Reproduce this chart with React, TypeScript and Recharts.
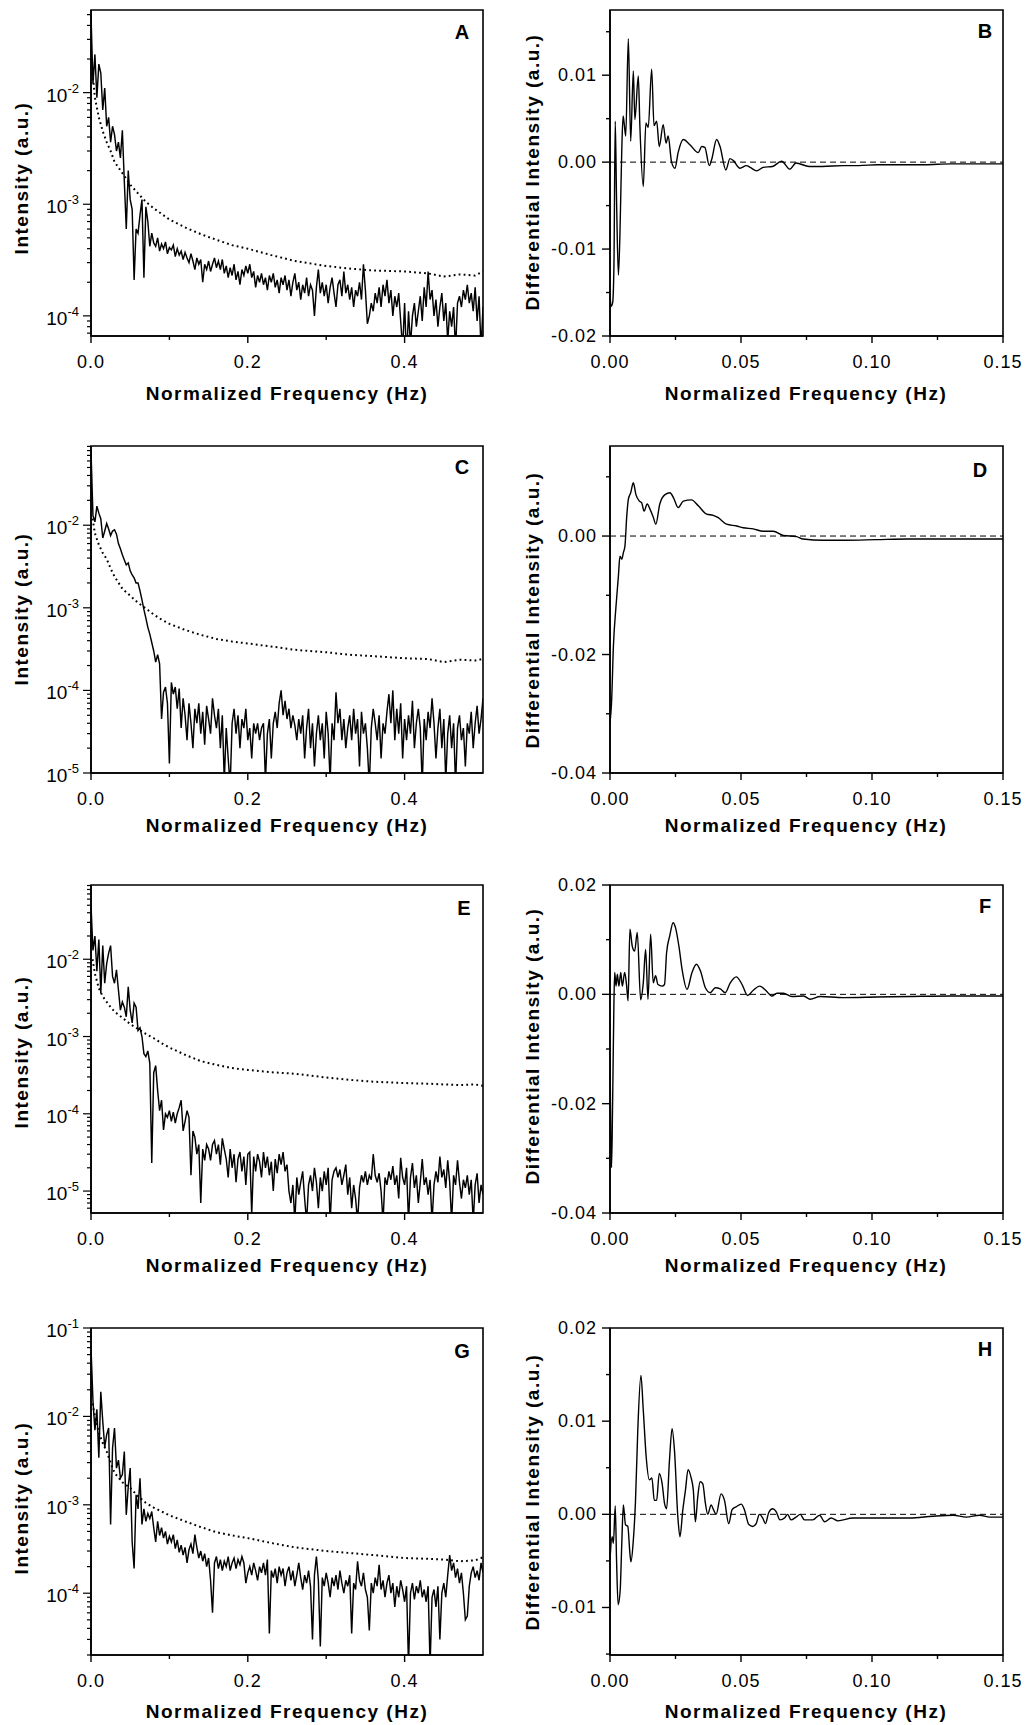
import React from 'react';
import { LineChart, Line, XAxis, YAxis, ReferenceArea, ReferenceLine } from 'recharts';

const FONT = "'Liberation Sans', Arial, Helvetica, sans-serif";

// spectra are sampled every 0.0025 Hz from 0 to 0.5
const SPEC_STEP = 0.0025;

const aIntensity = [
  5.0e-2, 1.2e-2, 2.2e-2, 9e-3, 1.8e-2, 1.5e-2, 7e-3, 1.1e-2, 5e-3, 6e-3,
  3.6e-3, 5e-3, 4.2e-3, 3e-3, 3.6e-3, 2.6e-3, 4.6e-3, 1.6e-3, 6e-4, 2e-3,
  1.1e-3, 9e-4, 2.1e-4, 6e-4, 5.5e-4, 8e-4, 1.1e-3, 2.2e-4, 9.5e-4, 7e-4,
  4.2e-4, 5.5e-4, 4.5e-4, 4.2e-4, 5.0e-4, 3.8e-4, 4.4e-4, 4.0e-4, 4.6e-4, 3.6e-4,
  4.1e-4, 3.9e-4, 4.3e-4, 3.4e-4, 4.0e-4, 3.5e-4, 3.8e-4, 3.2e-4, 3.7e-4, 3.3e-4,
  3.0e-4, 3.6e-4, 3.1e-4, 2.6e-4, 3.3e-4, 2.9e-4, 3.2e-4, 2.0e-4, 2.9e-4, 2.6e-4,
  3.1e-4, 2.5e-4, 2.9e-4, 3.3e-4, 2.7e-4, 3.1e-4, 2.6e-4, 3.2e-4, 2.4e-4, 2.8e-4,
  2.2e-4, 2.7e-4, 2.3e-4, 2.9e-4, 2.1e-4, 2.5e-4, 1.9e-4, 2.6e-4, 2.3e-4, 2.8e-4,
  2.4e-4, 2.9e-4, 2.2e-4, 2.5e-4, 1.8e-4, 2.3e-4, 2.0e-4, 2.4e-4, 1.9e-4, 2.2e-4,
  1.7e-4, 2.3e-4, 2.0e-4, 2.4e-4, 1.8e-4, 2.1e-4, 1.6e-4, 2.2e-4, 1.9e-4, 2.3e-4,
  1.7e-4, 2.1e-4, 1.5e-4, 2.0e-4, 2.4e-4, 1.7e-4, 2.0e-4, 1.4e-4, 1.9e-4, 1.6e-4,
  2.2e-4, 1.5e-4, 1.9e-4, 1.7e-4, 1.0e-4, 1.8e-4, 2.6e-4, 1.6e-4, 2.0e-4, 1.5e-4,
  1.9e-4, 1.3e-4, 1.8e-4, 2.2e-4, 1.6e-4, 1.2e-4, 1.9e-4, 2.1e-4, 1.5e-4, 2.5e-4,
  1.6e-4, 1.9e-4, 1.4e-4, 1.8e-4, 1.2e-4, 1.7e-4, 1.5e-4, 2.0e-4, 1.4e-4, 2.9e-4,
  1.7e-4, 8.5e-5, 1.0e-4, 1.3e-4, 1.1e-4, 1.6e-4, 1.3e-4, 1.8e-4, 1.2e-4, 1.9e-4,
  1.5e-4, 2.1e-4, 1.3e-4, 1.7e-4, 1.0e-4, 1.5e-4, 1.2e-4, 1.6e-4, 9e-5, 5e-5,
  1.3e-4, 4e-5, 1.1e-4, 5.5e-5, 1.0e-4, 1.3e-4, 8e-5, 1.1e-4, 1.5e-4, 9e-5,
  1.8e-4, 1.2e-4, 2.5e-4, 1.4e-4, 1.7e-4, 1.0e-4, 1.4e-4, 8e-5, 1.2e-4, 1.6e-4,
  9e-5, 1.3e-4, 6e-5, 1.1e-4, 8e-5, 1.2e-4, 5e-5, 1.3e-4, 1.5e-4, 1.2e-4,
  1.7e-4, 1.4e-4, 1.9e-4, 1.3e-4, 1.6e-4, 1.1e-4, 1.8e-4, 9e-5, 1.5e-4, 5e-5,
  1.2e-4,
];

const cIntensity = [
  8e-2, 1.3e-2, 1.1e-2, 1.7e-2, 1.4e-2, 1.2e-2, 7e-3, 8.5e-3, 1.05e-2, 9e-3,
  7.5e-3, 8.5e-3, 8.8e-3, 7.8e-3, 6e-3, 5.2e-3, 4.4e-3, 3.8e-3, 3.3e-3, 3.5e-3,
  2.8e-3, 2.5e-3, 2.3e-3, 2.0e-3, 2.0e-3, 1.6e-3, 1.25e-3, 9.5e-4, 7.5e-4, 5.8e-4,
  4.8e-4, 3.8e-4, 3.0e-4, 2.2e-4, 2.7e-4, 2.1e-4, 4.5e-5, 9.5e-5, 1.1e-4, 7e-5,
  1.3e-5, 1.25e-4, 9e-5, 1.1e-4, 6e-5, 1.05e-4, 3.5e-5, 8e-5, 5e-5, 2.5e-5,
  7e-5, 4e-5, 2e-5, 6e-5, 4e-5, 7e-5, 3e-5, 5.5e-5, 2.2e-5, 6.5e-5,
  4.5e-5, 3e-5, 8e-5, 5e-5, 3.5e-5, 6e-5, 2e-5, 5e-5, 8e-6, 3.5e-5,
  1.5e-5, 7e-6, 4e-5, 6e-5, 3e-5, 5e-5, 2e-5, 4.5e-5, 3.5e-5, 6e-5,
  2.5e-5, 3.5e-5, 1.5e-5, 4e-5, 3e-5, 4e-5, 2.5e-5, 3.5e-5, 4e-5, 8e-6,
  3e-5, 4.5e-5, 1.5e-5, 4e-5, 5.5e-5, 3.5e-5, 7e-5, 1e-4, 5e-5, 7.5e-5,
  4.5e-5, 6e-5, 3.5e-5, 5e-5, 3.8e-5, 2.5e-5, 4.5e-5, 3e-5, 5e-5, 1.5e-5,
  3.5e-5, 6e-5, 2e-5, 4e-5, 1.2e-5, 3e-5, 5e-5, 2.5e-5, 4e-5, 1.5e-5,
  5.5e-5, 3e-5, 8e-6, 4e-5, 2.5e-5, 9.5e-5, 4e-5, 6e-5, 2.5e-5, 4.5e-5,
  2e-5, 3.5e-5, 5e-5, 2.5e-5, 6e-5, 3e-5, 4.5e-5, 1.2e-5, 5.5e-5, 3e-5,
  4e-5, 2e-5, 7e-6, 3.5e-5, 6e-5, 4e-5, 2.5e-5, 5e-5, 1.5e-5, 4e-5,
  3e-5, 5.5e-5, 9e-5, 4e-5, 1e-4, 2.5e-5, 6e-5, 3e-5, 7e-5, 1.5e-5,
  4.5e-5, 2.5e-5, 5e-5, 3e-5, 7.5e-5, 2e-5, 4e-5, 6e-5, 3.5e-5, 7e-6,
  4.5e-5, 2.5e-5, 5.5e-5, 3.5e-5, 8e-5, 4e-5, 1.5e-5, 3.5e-5, 6e-5, 2e-5,
  4.5e-5, 8e-6, 3e-5, 5e-5, 2e-5, 4e-5, 7e-6, 3.5e-5, 5e-5, 2.5e-5,
  3.5e-5, 1.2e-5, 4e-5, 3e-5, 5.5e-5, 2e-5, 4e-5, 6.5e-5, 3e-5, 4.5e-5,
  8e-5,
];

const eIntensity = [
  5e-2, 1.3e-2, 2e-2, 7e-3, 1.8e-2, 3.6e-3, 1.5e-2, 4.9e-3, 8.8e-3, 1.2e-2,
  1.5e-2, 6e-3, 4.9e-3, 7.3e-3, 4e-3, 2.2e-3, 2.8e-3, 2.4e-3, 1.8e-3, 4.4e-3,
  2.2e-3, 1.5e-3, 2.7e-3, 2.4e-3, 1.2e-3, 1.3e-3, 1.0e-3, 6e-4, 5.5e-4, 6.5e-4,
  4.5e-4, 2.3e-5, 3.4e-4, 4.2e-4, 2e-4, 1.1e-4, 1.5e-4, 6.2e-5, 1e-4, 9e-5,
  1.1e-4, 8e-5, 1.05e-4, 7.6e-5, 1e-4, 1.2e-4, 1.5e-4, 6e-5, 8e-5, 1.1e-4,
  9e-5, 1.6e-5, 6e-5, 5e-5, 3e-5, 4e-5, 7e-6, 3.5e-5, 2.5e-5, 4e-5,
  3.5e-5, 2.5e-5, 4e-5, 4.5e-5, 3e-5, 4e-5, 2.2e-5, 4.8e-5, 3.5e-5, 2.6e-5,
  1.5e-5, 3.5e-5, 2e-5, 3e-5, 1.3e-5, 2.6e-5, 3.2e-5, 1.8e-5, 2.8e-5, 1.2e-5,
  3e-5, 3.2e-5, 5e-6, 2.8e-5, 1.8e-5, 3e-5, 2.4e-5, 1.5e-5, 3.2e-5, 2e-5,
  2.8e-5, 1.6e-5, 2.4e-5, 1e-5, 2.6e-5, 1.7e-5, 3e-5, 2.2e-5, 3.2e-5, 1.8e-5,
  2.2e-5, 1e-5, 7e-6, 1.2e-5, 4e-6, 1.5e-5, 9e-6, 1.3e-5, 1.8e-5, 8e-6,
  4e-6, 1.2e-5, 1.6e-5, 1e-5, 2e-5, 1.3e-5, 6e-6, 1.5e-5, 1e-5, 1.8e-5,
  1.2e-5, 2e-5, 4e-6, 1.4e-5, 1.8e-5, 2e-5, 1.5e-5, 1.9e-5, 1.2e-5, 1.6e-5,
  2.2e-5, 9e-6, 1.5e-5, 6e-6, 1.2e-5, 8e-6, 4e-6, 1.1e-5, 1.6e-5, 1.3e-5,
  1.8e-5, 1.2e-5, 1.6e-5, 1.4e-5, 3e-5, 1.6e-5, 1.3e-5, 1.7e-5, 1e-5, 4e-6,
  1.5e-5, 1.2e-5, 1.8e-5, 1.4e-5, 2.1e-5, 1.2e-5, 1.6e-5, 8e-6, 2.7e-5, 1.5e-5,
  1.2e-5, 2e-5, 4e-6, 1.5e-5, 2.3e-5, 1.1e-5, 1.6e-5, 7e-6, 1.3e-5, 2.6e-5,
  1.2e-5, 1.5e-5, 9e-6, 1.4e-5, 4e-6, 1.2e-5, 1.8e-5, 1.3e-5, 2.8e-5, 1.5e-5,
  1.9e-5, 1.1e-5, 2.5e-5, 1.3e-5, 4e-6, 1.6e-5, 1.2e-5, 2.5e-5, 1.3e-5, 8e-6,
  1.4e-5, 1.1e-5, 1.6e-5, 9e-6, 1.4e-5, 4e-6, 1.2e-5, 1.7e-5, 7e-6, 1.2e-5,
  9e-6,
];

const gIntensity = [
  6e-2, 1.5e-2, 7e-3, 1.2e-2, 3.4e-3, 1.9e-2, 8.8e-3, 4.5e-3, 6.2e-3, 7.4e-3,
  6e-4, 4.4e-3, 7.4e-3, 2.6e-3, 3.2e-3, 2.0e-3, 2.2e-3, 4e-3, 7.7e-4, 1.6e-3,
  2.6e-3, 3.8e-4, 1.9e-4, 1.3e-3, 9e-4, 2.0e-3, 6e-4, 9e-4, 6.5e-4, 8e-4,
  7e-4, 8.4e-4, 5.5e-4, 3.8e-4, 6.5e-4, 4.5e-4, 5.5e-4, 4.2e-4, 5e-4, 3.6e-4,
  4.4e-4, 3.8e-4, 4.6e-4, 3.2e-4, 4e-4, 2.9e-4, 3.5e-4, 2.7e-4, 3.3e-4, 2.2e-4,
  3.1e-4, 3.6e-4, 2.8e-4, 4.6e-4, 3.3e-4, 2.5e-4, 3e-4, 2.3e-4, 2.8e-4, 2.0e-4,
  2.5e-4, 1.4e-4, 6e-5, 2.2e-4, 2.6e-4, 1.9e-4, 2.4e-4, 1.8e-4, 2.3e-4, 2.0e-4,
  2.6e-4, 1.8e-4, 2.2e-4, 2.5e-4, 1.9e-4, 2.4e-4, 2.1e-4, 2.6e-4, 2.2e-4, 1.3e-4,
  1.7e-4, 2.0e-4, 1.6e-4, 2.2e-4, 1.8e-4, 1.4e-4, 2.0e-4, 1.7e-4, 2.2e-4, 1.6e-4,
  2.4e-4, 3.5e-5, 1.8e-4, 1.5e-4, 1.9e-4, 1.3e-4, 2.0e-4, 1.6e-4, 1.9e-4, 1.2e-4,
  1.7e-4, 2.0e-4, 1.4e-4, 1.8e-4, 1.2e-4, 1.6e-4, 2.2e-4, 1.5e-4, 1.1e-4, 1.6e-4,
  1.3e-4, 1.8e-4, 1.2e-4, 3e-5, 1.6e-4, 2.6e-4, 1.4e-4, 2.5e-5, 1.5e-4, 1.2e-4,
  1.7e-4, 1.3e-4, 9e-5, 1.5e-4, 1.2e-4, 1.6e-4, 1.1e-4, 1.8e-4, 1.3e-4, 1.0e-4,
  1.4e-4, 1.2e-4, 1.6e-4, 3.5e-5, 1.3e-4, 1.1e-4, 2.3e-4, 1.4e-4, 1.2e-4, 1.7e-4,
  1.1e-4, 9e-5, 3.8e-5, 1.3e-4, 1.0e-4, 1.5e-4, 1.2e-4, 2.1e-4, 1.1e-4, 1.4e-4,
  9e-5, 1.3e-4, 1.6e-4, 1.0e-4, 1.3e-4, 7e-5, 1.2e-4, 9e-5, 1.4e-4, 1.1e-4,
  8e-5, 1.2e-4, 1.5e-5, 1.0e-4, 1.3e-4, 8.5e-5, 1.2e-4, 1.0e-4, 1.4e-4, 9e-5,
  1.1e-4, 8e-5, 1.2e-4, 1.5e-5, 9e-5, 1.1e-4, 7e-5, 1.2e-4, 3e-5, 1.0e-4,
  1.3e-4, 9e-5, 1.6e-4, 2.7e-4, 1.8e-4, 2.2e-4, 1.5e-4, 1.9e-4, 1.3e-4, 1.7e-4,
  1.0e-4, 5e-5, 5.5e-5, 1.2e-4, 1.7e-4, 2.0e-4, 1.5e-4, 1.8e-4, 1.4e-4, 2.2e-4,
  1.7e-4,
];

// smooth reference spectra (dotted), shared frequency grid
const refFreq = [
  0.002, 0.005, 0.01, 0.015, 0.02, 0.025, 0.03, 0.04, 0.05, 0.06,
  0.07, 0.08, 0.09, 0.1, 0.12, 0.14, 0.16, 0.18, 0.2, 0.23,
  0.26, 0.3, 0.33, 0.36, 0.4, 0.43, 0.45, 0.47, 0.49, 0.5,
];
const aReference = [
  1.5e-2, 9e-3, 6e-3, 4.5e-3, 3.6e-3, 3.0e-3, 2.4e-3, 1.9e-3, 1.5e-3, 1.25e-3,
  1.05e-3, 9.2e-4, 8.2e-4, 7.3e-4, 6.2e-4, 5.4e-4, 4.8e-4, 4.3e-4, 4.0e-4, 3.5e-4,
  3.1e-4, 2.8e-4, 2.65e-4, 2.55e-4, 2.5e-4, 2.4e-4, 2.25e-4, 2.35e-4, 2.3e-4, 2.5e-4,
];
const cReference = [
  1.2e-2, 8e-3, 5.8e-3, 4.6e-3, 3.9e-3, 3.0e-3, 2.4e-3, 1.7e-3, 1.4e-3, 1.15e-3,
  9.8e-4, 8.3e-4, 7.2e-4, 6.4e-4, 5.4e-4, 4.7e-4, 4.2e-4, 3.9e-4, 3.7e-4, 3.4e-4,
  3.1e-4, 2.9e-4, 2.7e-4, 2.6e-4, 2.45e-4, 2.4e-4, 2.2e-4, 2.35e-4, 2.3e-4, 2.4e-4,
];
const eReference = [
  1.0e-2, 6.5e-3, 4.2e-3, 3.3e-3, 2.8e-3, 2.4e-3, 2.1e-3, 1.75e-3, 1.45e-3, 1.25e-3,
  1.08e-3, 9.5e-4, 8.2e-4, 7.2e-4, 5.8e-4, 4.8e-4, 4.3e-4, 3.9e-4, 3.7e-4, 3.45e-4,
  3.3e-4, 2.95e-4, 2.75e-4, 2.6e-4, 2.5e-4, 2.45e-4, 2.4e-4, 2.35e-4, 2.4e-4, 2.3e-4,
];
const gReference = [
  1.4e-2, 1.0e-2, 6.5e-3, 5.0e-3, 4.0e-3, 3.0e-3, 2.3e-3, 1.8e-3, 1.55e-3, 1.25e-3,
  1.05e-3, 9.3e-4, 8.4e-4, 7.6e-4, 6.5e-4, 5.6e-4, 4.9e-4, 4.5e-4, 4.2e-4, 3.7e-4,
  3.3e-4, 3.0e-4, 2.85e-4, 2.7e-4, 2.5e-4, 2.45e-4, 2.4e-4, 2.3e-4, 2.35e-4, 2.55e-4,
];

// differential spectra
const bFreq = [
  0, 0.0004, 0.001, 0.0015, 0.002, 0.0025, 0.0032, 0.0038, 0.0045, 0.005,
  0.0055, 0.006, 0.007, 0.0079, 0.0089, 0.0095, 0.0108, 0.0114, 0.0127, 0.0137,
  0.0146, 0.0159, 0.0168, 0.0178, 0.0188, 0.0203, 0.0214, 0.0222, 0.0235, 0.0248,
  0.026, 0.028, 0.0305, 0.0337, 0.035, 0.0362, 0.0379, 0.0388, 0.0407, 0.042,
  0.0442, 0.0458, 0.047, 0.0496, 0.0521, 0.0535, 0.056, 0.0585, 0.062, 0.0655,
  0.0686, 0.071, 0.076, 0.081, 0.089, 0.095, 0.102, 0.11, 0.12, 0.13,
  0.14, 0.15,
];
const bDiff = [
  -0.0151, -0.0166, -0.0162, -0.012, 0.0047, -0.0043, -0.013, -0.0082, 0.0015, 0.0053,
  0.0042, 0.003, 0.0142, 0.0024, 0.0105, 0.0049, 0.0099, 0.0042, -0.0028, 0.0045,
  0.004, 0.0107, 0.0042, 0.0047, 0.0018, 0.0043, 0.0022, 0.003, 0, -0.0007,
  0.0011, 0.0026, 0.002, 0.0011, 0.0018, 0.0017, -0.0004, 0.0003, 0.0026, 0.0018,
  -0.0009, 0.0004, 0.0002, -0.0007, -0.0004, -0.0006, -0.001, -0.0006, -0.0005, 0.0001,
  -0.0008, -0.0001, -0.0005, -0.0005, -0.0004, -0.0004, -0.0003, -0.0003, -0.0003, -0.0002,
  -0.0002, -0.0002,
];

const dFreq = [
  0, 0.0006, 0.0013, 0.0023, 0.0032, 0.0038, 0.0045, 0.0051, 0.0057, 0.0064,
  0.007, 0.0079, 0.0089, 0.0099, 0.0112, 0.0121, 0.013, 0.0142, 0.0153, 0.0165,
  0.0175, 0.019, 0.021, 0.0229, 0.0242, 0.026, 0.028, 0.0311, 0.0337, 0.0369,
  0.0394, 0.0413, 0.0445, 0.0483, 0.0508, 0.0547, 0.0585, 0.0623, 0.0661, 0.0712,
  0.0737, 0.0814, 0.09, 0.1017, 0.114, 0.13, 0.15,
];
const dDiff = [
  -0.0315, -0.028, -0.0186, -0.0118, -0.0068, -0.0034, -0.0039, -0.0028, -0.0017, 0.0034,
  0.0062, 0.0073, 0.009, 0.007, 0.0059, 0.0056, 0.0042, 0.0054, 0.0045, 0.0032,
  0.002, 0.0054, 0.007, 0.0073, 0.0065, 0.0048, 0.0059, 0.0061, 0.0051, 0.0037,
  0.0035, 0.0031, 0.002, 0.0017, 0.0014, 0.0012, 0.0008, 0.0008, 0.0001, -0.0001,
  -0.0005, -0.0007, -0.0007, -0.0006, -0.0005, -0.0005, -0.0005,
];

const fFreq = [
  0, 0.0003, 0.0006, 0.001, 0.0015, 0.0018, 0.0023, 0.0028, 0.0034, 0.0041,
  0.0047, 0.0056, 0.0063, 0.0069, 0.0076, 0.0085, 0.0094, 0.0104, 0.0117, 0.0127,
  0.0136, 0.0145, 0.0155, 0.0165, 0.0174, 0.0183, 0.0199, 0.0208, 0.0216, 0.0228,
  0.0241, 0.025, 0.0263, 0.0275, 0.0294, 0.0313, 0.033, 0.0345, 0.0364, 0.0383,
  0.0402, 0.0421, 0.044, 0.0459, 0.0482, 0.0504, 0.0525, 0.0548, 0.0571, 0.0593,
  0.0618, 0.0637, 0.0662, 0.0694, 0.0739, 0.0764, 0.0802, 0.089, 0.1018, 0.1145,
  0.13, 0.15,
];
const fDiff = [
  -0.0107, -0.026, -0.0317, -0.0198, -0.0015, 0.004, 0.0015, 0.0037, 0.0015, 0.004,
  0.0015, 0.004, 0.0018, -0.0012, 0.0119, 0.0088, 0.0079, 0.0113, -0.001, 0.0021,
  0.0082, -0.0009, 0.011, 0.0021, 0.0034, 0.0018, 0.0015, 0.0018, 0.0076, 0.0107,
  0.0131, 0.0122, 0.0088, 0.0046, 0.0009, 0.004, 0.0055, 0.0043, 0.0012, 0.0003,
  0.0012, 0.001, 0.0003, 0.0021, 0.0032, 0.0018, -0.0002, 0.0008, 0.0015, 0.0008,
  -0.0003, 0.0002, 0.0002, -0.0004, -0.0003, -0.0009, -0.0004, -0.0006, -0.0005, -0.0004,
  -0.0003, -0.0003,
];

const hFreq = [
  0, 0.0008, 0.0013, 0.002, 0.0025, 0.0031, 0.0039, 0.0045, 0.0051, 0.0059,
  0.0068, 0.0076, 0.008, 0.0089, 0.0097, 0.0106, 0.0118, 0.0127, 0.0138, 0.015,
  0.016, 0.0169, 0.0178, 0.0188, 0.0199, 0.0208, 0.0216, 0.0227, 0.0237, 0.0246,
  0.0259, 0.0267, 0.0278, 0.0288, 0.0298, 0.0309, 0.0318, 0.0326, 0.0335, 0.0344,
  0.0354, 0.0364, 0.0373, 0.0386, 0.0395, 0.0405, 0.0424, 0.0437, 0.0453, 0.0466,
  0.0481, 0.0501, 0.0513, 0.053, 0.0545, 0.0558, 0.057, 0.0583, 0.0593, 0.0606,
  0.0621, 0.0634, 0.0649, 0.0666, 0.0678, 0.0691, 0.071, 0.0726, 0.0742, 0.0774,
  0.08, 0.0819, 0.0844, 0.087, 0.0927, 0.1016, 0.1144, 0.1233, 0.131, 0.136,
  0.141, 0.145, 0.15,
];
const hDiff = [
  -0.0049, -0.0024, -0.0031, 0.0009, -0.0049, -0.0097, -0.0081, -0.0031, 0.001, -0.0011,
  -0.0013, -0.0042, -0.0051, -0.0028, 0.0012, 0.009, 0.0149, 0.0112, 0.0062, 0.0037,
  0.0039, 0.0015, 0.0015, 0.0044, 0.0033, 0.0012, 0.0006, 0.0058, 0.0092, 0.0069,
  -0.0003, -0.0024, 0.0005, 0.0026, 0.0048, 0.004, 0.0026, -0.0008, 0.0019, 0.0035,
  0.0033, 0.0012, 0, 0.001, 0.0005, 0, 0.0022, 0.0015, -0.001, 0.0005,
  0.0008, 0.0011, 0.0005, -0.0011, -0.0013, -0.001, 0, -0.0004, -0.001, 0.0002,
  0.0006, 0.0003, -0.0006, -0.0004, 0, -0.0006, -0.0003, 0, -0.0006, -0.0006,
  -0.0001, -0.0008, -0.0004, -0.0007, -0.0004, -0.0004, -0.0004, -0.0002, -0.0001, -0.0003,
  -0.0001, -0.0003, -0.0003,
];

const leftXTicks = [0, 0.1, 0.2, 0.3, 0.4];
const rightXTicks = [0, 0.025, 0.05, 0.075, 0.1, 0.125, 0.15];
const bYTicks = [-0.02, -0.015, -0.01, -0.005, 0, 0.005, 0.01, 0.015];
const dYTicks = [-0.04, -0.03, -0.02, -0.01, 0, 0.01];
const fYTicks = [-0.04, -0.03, -0.02, -0.01, 0, 0.01, 0.02];
const hYTicks = [-0.015, -0.01, -0.005, 0, 0.005, 0.01, 0.015, 0.02];

const spectrum = (vals: number[]) => vals.map((v, i) => ({ f: i * SPEC_STEP, v }));
const reference = (vals: number[]) => refFreq.map((f, i) => ({ f, v: vals[i] }));
const diff = (fs: number[], vals: number[]) => fs.map((f, i) => ({ f, v: vals[i] }));

// decade + minor ticks of a log axis
function logTicks(lo: number, hi: number) {
  const out: number[] = [];
  for (let d = Math.floor(Math.log10(lo)); d <= Math.ceil(Math.log10(hi)); d++) {
    for (let k = 1; k <= 9; k++) {
      const t = k * Math.pow(10, d);
      if (t >= lo && t <= hi * 1.0001) out.push(t);
    }
  }
  return out;
}

const isMajor = (v: number, step: number) => Math.abs(v / step - Math.round(v / step)) < 1e-6;

const xTick = (majorStep: number, digits: number) => (props: any) => {
  const { x, y, payload } = props;
  const v = payload.value;
  const major = isMajor(v, majorStep);
  return (
    <g>
      <line x1={x} x2={x} y1={y} y2={y + (major ? 7 : 4)} stroke="#000" strokeWidth={1.4} />
      {major && (
        <text x={x} y={y + 32} textAnchor="middle" fontFamily={FONT} fontSize={18} letterSpacing={1} fill="#000">
          {v.toFixed(digits)}
        </text>
      )}
    </g>
  );
};

const logYTick = (props: any) => {
  const { x, y, payload } = props;
  const e = Math.log10(payload.value);
  const major = Math.abs(e - Math.round(e)) < 1e-6;
  return (
    <g>
      <line x1={x - (major ? 8 : 4)} x2={x} y1={y} y2={y} stroke="#000" strokeWidth={1.2} />
      {major && (
        <text x={x - 12} y={y + 9} textAnchor="end" fontFamily={FONT} fontSize={19} fill="#000">
          10<tspan dy={-9} fontSize={13}>{String(Math.round(e))}</tspan>
        </text>
      )}
    </g>
  );
};

const linYTick = (majorStep: number) => (props: any) => {
  const { x, y, payload } = props;
  const v = payload.value;
  const major = isMajor(v, majorStep);
  return (
    <g>
      <line x1={x - (major ? 8 : 4)} x2={x} y1={y} y2={y} stroke="#000" strokeWidth={1.4} />
      {major && (
        <text x={x - 13} y={y + 6} textAnchor="end" fontFamily={FONT} fontSize={18} letterSpacing={1} fill="#000">
          {Math.abs(v) < 1e-9 ? '0.00' : v.toFixed(2)}
        </text>
      )}
    </g>
  );
};

type Row = { top: number; height: number; plotTop: number; plotBottom: number };
const ROWS: Row[] = [
  { top: 0, height: 420, plotTop: 10, plotBottom: 336 },
  { top: 430, height: 420, plotTop: 446, plotBottom: 773 },
  { top: 870, height: 420, plotTop: 885, plotBottom: 1213 },
  { top: 1310, height: 410, plotTop: 1328, plotBottom: 1655 },
];

const AXIS_LINE = { stroke: '#000', strokeWidth: 1.6 };

function SpectrumPanel({ row, solid, dotted, lo, hi }: { row: Row; solid: any[]; dotted: any[]; lo: number; hi: number }) {
  return (
    <div style={{ position: 'absolute', left: 0, top: row.top }}>
      <LineChart width={505} height={row.height} margin={{ top: row.plotTop - row.top, right: 22, bottom: 0, left: 0 }}>
        <XAxis
          dataKey="f" type="number" domain={[0, 0.5]} allowDataOverflow ticks={leftXTicks} interval={0}
          height={row.top + row.height - row.plotBottom} tickLine={false} tickSize={0} tickMargin={0}
          axisLine={AXIS_LINE} tick={xTick(0.2, 1)}
        />
        <YAxis
          type="number" scale="log" domain={[lo, hi]} allowDataOverflow ticks={logTicks(lo, hi)} interval={0}
          width={91} tickLine={false} tickSize={0} tickMargin={0} axisLine={AXIS_LINE} tick={logYTick}
        />
        <ReferenceArea x1={0} x2={0.5} y1={lo} y2={hi} fill="none" stroke="#000" strokeWidth={1.6} ifOverflow="visible" />
        <Line data={dotted} dataKey="v" type="linear" stroke="#000" strokeWidth={2} strokeDasharray="1.8 3.2" dot={false} isAnimationActive={false} />
        <Line data={solid} dataKey="v" type="linear" stroke="#000" strokeWidth={1.45} dot={false} isAnimationActive={false} />
      </LineChart>
    </div>
  );
}

function DiffPanel({ row, data, lo, hi, ticks, majorStep }: { row: Row; data: any[]; lo: number; hi: number; ticks: number[]; majorStep: number }) {
  return (
    <div style={{ position: 'absolute', left: 510, top: row.top }}>
      <LineChart width={519} height={row.height} margin={{ top: row.plotTop - row.top, right: 26, bottom: 0, left: 0 }}>
        <XAxis
          dataKey="f" type="number" domain={[0, 0.15]} allowDataOverflow ticks={rightXTicks} interval={0}
          height={row.top + row.height - row.plotBottom} tickLine={false} tickSize={0} tickMargin={0}
          axisLine={AXIS_LINE} tick={xTick(0.05, 2)}
        />
        <YAxis
          type="number" domain={[lo, hi]} allowDataOverflow ticks={ticks} interval={0}
          width={100} tickLine={false} tickSize={0} tickMargin={0} axisLine={AXIS_LINE} tick={linYTick(majorStep)}
        />
        <ReferenceArea x1={0} x2={0.15} y1={lo} y2={hi} fill="none" stroke="#000" strokeWidth={1.6} ifOverflow="visible" />
        <ReferenceLine y={0} stroke="#000" strokeWidth={1} strokeDasharray="6 4" />
        <Line data={data} dataKey="v" type="monotone" stroke="#000" strokeWidth={1.4} dot={false} isAnimationActive={false} />
      </LineChart>
    </div>
  );
}

const X_TITLE = 'Normalized Frequency (Hz)';
const titleStyle = { fontFamily: FONT, fontWeight: 700, fontSize: 19, letterSpacing: 1.5, fill: '#000' } as const;

export default function App() {
  const xTitleBase = [400, 832, 1272, 1718];
  const leftTitleY = [178, 609, 1052, 1498];
  const rightTitleY = [172, 610, 1046, 1492];
  const letters = [
    ['A', 462, 39], ['B', 985, 38], ['C', 462, 474], ['D', 980, 477],
    ['E', 464, 915], ['F', 985, 913], ['G', 462, 1358], ['H', 985, 1356],
  ] as const;

  return (
    <div style={{ position: 'absolute', left: 0, top: 0, width: 1029, height: 1725, background: '#fff', overflow: 'hidden' }}>
      <SpectrumPanel row={ROWS[0]} solid={spectrum(aIntensity)} dotted={reference(aReference)} lo={6.6e-5} hi={0.055} />
      <SpectrumPanel row={ROWS[1]} solid={spectrum(cIntensity)} dotted={reference(cReference)} lo={1e-5} hi={0.091} />
      <SpectrumPanel row={ROWS[2]} solid={spectrum(eIntensity)} dotted={reference(eReference)} lo={5.2e-6} hi={0.0914} />
      <SpectrumPanel row={ROWS[3]} solid={spectrum(gIntensity)} dotted={reference(gReference)} lo={2e-5} hi={0.1} />

      <DiffPanel row={ROWS[0]} data={diff(bFreq, bDiff)} lo={-0.02} hi={0.0175} ticks={bYTicks} majorStep={0.01} />
      <DiffPanel row={ROWS[1]} data={diff(dFreq, dDiff)} lo={-0.04} hi={0.0152} ticks={dYTicks} majorStep={0.02} />
      <DiffPanel row={ROWS[2]} data={diff(fFreq, fDiff)} lo={-0.04} hi={0.02} ticks={fYTicks} majorStep={0.02} />
      <DiffPanel row={ROWS[3]} data={diff(hFreq, hDiff)} lo={-0.0151} hi={0.02} ticks={hYTicks} majorStep={0.01} />

      <svg width={1029} height={1725} style={{ position: 'absolute', left: 0, top: 0, pointerEvents: 'none' }}>
        {xTitleBase.map((yb, i) => (
          <g key={`xt${i}`}>
            <text x={287} y={yb} textAnchor="middle" {...titleStyle}>{X_TITLE}</text>
            <text x={806} y={yb} textAnchor="middle" {...titleStyle}>{X_TITLE}</text>
          </g>
        ))}
        {leftTitleY.map((cy, i) => (
          <text key={`yl${i}`} transform={`translate(28, ${cy}) rotate(-90)`} textAnchor="middle" {...titleStyle}>
            Intensity (a.u.)
          </text>
        ))}
        {rightTitleY.map((cy, i) => (
          <text key={`yr${i}`} transform={`translate(539, ${cy}) rotate(-90)`} textAnchor="middle" {...titleStyle}>
            Differential Intensity (a.u.)
          </text>
        ))}
        {letters.map(([t, x, y]) => (
          <text key={t} x={x} y={y} textAnchor="middle" fontFamily={FONT} fontWeight={700} fontSize={20} fill="#000">
            {t}
          </text>
        ))}
      </svg>
    </div>
  );
}
